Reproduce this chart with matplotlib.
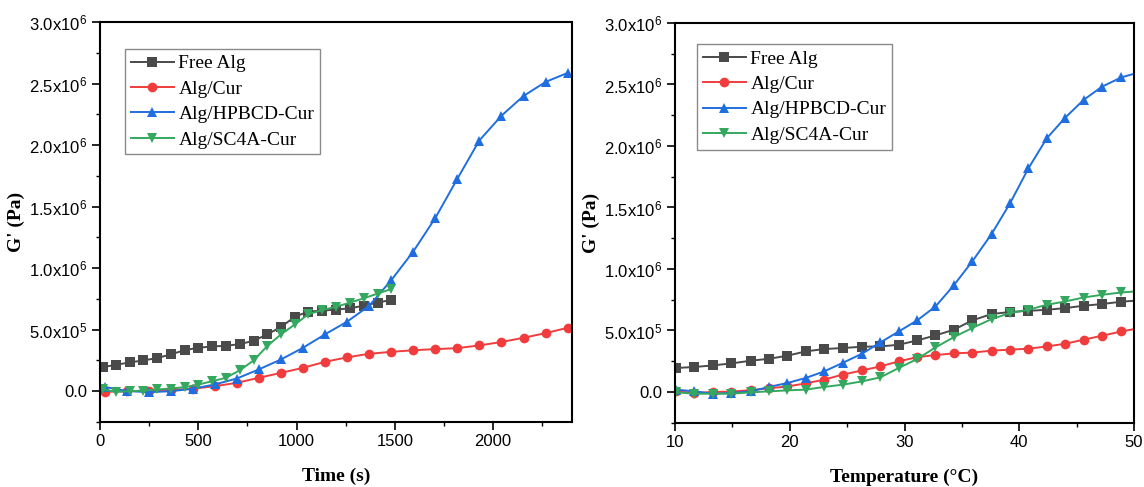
import math

import matplotlib
matplotlib.use("Agg")
import matplotlib.pyplot as plt
from matplotlib.ticker import FuncFormatter, MultipleLocator

plt.rcParams["font.family"] = ["Liberation Sans", "DejaVu Sans"]
plt.rcParams["mathtext.fontset"] = "custom"
plt.rcParams["mathtext.rm"] = "Liberation Sans"

# ---- data: time sweep (left) ----
time_free = [15, 83, 151, 219, 290, 360, 431, 501, 572, 641, 712, 782, 851, 921,
             992, 1060, 1131, 1199, 1272, 1342, 1413, 1481]
time_cur = [23, 135, 247, 360, 472, 584, 696, 808, 921, 1033, 1145, 1257, 1369,
            1482, 1594, 1706, 1818, 1930, 2043, 2155, 2267, 2379]

g_free_time = [0.196, 0.215, 0.234, 0.250, 0.269, 0.299, 0.334, 0.353, 0.364, 0.369,
               0.383, 0.410, 0.462, 0.522, 0.606, 0.647, 0.655, 0.663, 0.674, 0.695,
               0.720, 0.742]
g_cur_time = [-0.005, 0.000, 0.004, 0.010, 0.020, 0.041, 0.068, 0.109, 0.149, 0.190,
              0.239, 0.275, 0.304, 0.320, 0.333, 0.342, 0.350, 0.372, 0.400, 0.434,
              0.472, 0.515]
g_hpbcd_time = [0.035, 0.002, -0.008, 0.000, 0.020, 0.055, 0.103, 0.177, 0.258, 0.353,
                0.462, 0.565, 0.693, 0.902, 1.135, 1.407, 1.725, 2.037, 2.239, 2.399,
                2.513, 2.586]
g_sc4a_time = [0.014, -0.005, 0.000, 0.005, 0.014, 0.022, 0.033, 0.054, 0.082, 0.109,
               0.171, 0.250, 0.367, 0.462, 0.543, 0.625, 0.660, 0.685, 0.720, 0.755,
               0.793, 0.830]

# ---- data: temperature sweep (right) ----
temperature = [10.1, 11.7, 13.3, 14.9, 16.6, 18.2, 19.8, 21.4, 23.0, 24.6, 26.3, 27.9,
               29.5, 31.1, 32.7, 34.3, 35.9, 37.6, 39.2, 40.8, 42.4, 44.0, 45.6, 47.2,
               48.9, 50.5]
g_free_temp = [0.195, 0.203, 0.216, 0.232, 0.254, 0.270, 0.295, 0.330, 0.349, 0.357,
               0.368, 0.370, 0.384, 0.419, 0.460, 0.506, 0.582, 0.634, 0.650, 0.660,
               0.668, 0.682, 0.701, 0.715, 0.734, 0.745]
g_cur_temp = [0.005, -0.008, 0.000, 0.003, 0.015, 0.030, 0.045, 0.070, 0.100, 0.141,
              0.175, 0.208, 0.249, 0.283, 0.300, 0.314, 0.320, 0.336, 0.344, 0.352,
              0.370, 0.392, 0.425, 0.457, 0.492, 0.520]
g_hpbcd_temp = [0.019, 0.005, -0.014, -0.008, 0.005, 0.041, 0.073, 0.114, 0.167, 0.236,
                0.311, 0.403, 0.492, 0.582, 0.695, 0.868, 1.061, 1.286, 1.535, 1.819,
                2.063, 2.230, 2.374, 2.482, 2.558, 2.600]
g_sc4a_temp = [-0.003, -0.014, -0.014, -0.014, -0.003, 0.005, 0.013, 0.019, 0.041, 0.059,
               0.086, 0.119, 0.195, 0.268, 0.362, 0.446, 0.520, 0.593, 0.642, 0.669,
               0.709, 0.736, 0.768, 0.790, 0.809, 0.820]

labels = ["Free Alg", "Alg/Cur", "Alg/HPBCD-Cur", "Alg/SC4A-Cur"]
colors = ["#4a4a4a", "#f03c3c", "#1f6ee0", "#34a85e"]
markers = ["s", "o", "^", "v"]

SERIF = "Liberation Serif"


def sci_label(v, _pos):
    if abs(v) < 1e-9:
        return "0.0"
    e = int(math.floor(math.log10(abs(v)) + 1e-9))
    m = v / 10 ** e
    return r"$\mathregular{%.1fx10^{%d}}$" % (m, e)


def style_axes(ax, xlabel):
    for sp in ax.spines.values():
        sp.set_linewidth(1.5)
    ax.tick_params(which="major", direction="out", length=5.5, width=1.2,
                   labelsize=12, top=False, right=False)
    ax.tick_params(which="minor", direction="out", length=3, width=1.0,
                   top=False, right=False)
    ax.set_ylim(-0.25e6, 3.0e6)
    ax.yaxis.set_major_locator(MultipleLocator(0.5e6))
    ax.yaxis.set_minor_locator(MultipleLocator(0.25e6))
    ax.yaxis.set_major_formatter(FuncFormatter(sci_label))
    ax.set_xlabel(xlabel, fontfamily=SERIF, fontweight="bold", fontsize=14, labelpad=13)
    ax.set_ylabel("G' (Pa)", fontfamily=SERIF, fontweight="bold", fontsize=14, labelpad=3)


def draw(ax, x_sets, y_sets):
    for xs, ys, lab, c, m in zip(x_sets, y_sets, labels, colors, markers):
        ax.plot(xs, [y * 1e6 for y in ys], color=c, marker=m, markersize=7,
                linewidth=1.4, label=lab, markeredgewidth=0)


fig = plt.figure(figsize=(11.44, 4.87), dpi=100)
ax1 = fig.add_axes([0.0874, 0.1335, 0.4123, 0.8213])
ax2 = fig.add_axes([0.5900, 0.1320, 0.4013, 0.8208])

draw(ax1, [time_free, time_cur, time_cur, time_free],
     [g_free_time, g_cur_time, g_hpbcd_time, g_sc4a_time])
ax1.set_xlim(0, 2400)
ax1.xaxis.set_major_locator(MultipleLocator(500))
ax1.xaxis.set_minor_locator(MultipleLocator(250))
style_axes(ax1, "Time (s)")

draw(ax2, [temperature] * 4, [g_free_temp, g_cur_temp, g_hpbcd_temp, g_sc4a_temp])
ax2.set_xlim(10, 50)
ax2.xaxis.set_major_locator(MultipleLocator(10))
ax2.xaxis.set_minor_locator(MultipleLocator(5))
style_axes(ax2, "Temperature (°C)")

for ax, anchor in [(ax1, (0.053, 0.9325)), (ax2, (0.048, 0.947))]:
    leg = ax.legend(loc="upper left", bbox_to_anchor=anchor, borderaxespad=0,
                    prop={"family": SERIF, "size": 14}, handlelength=2.2,
                    handletextpad=0.25, labelspacing=0.4, borderpad=0.3,
                    fancybox=False, framealpha=1)
    leg.get_frame().set_edgecolor("#8a8a8a")
    leg.get_frame().set_linewidth(1.0)

fig.savefig("out.png", dpi=100)
